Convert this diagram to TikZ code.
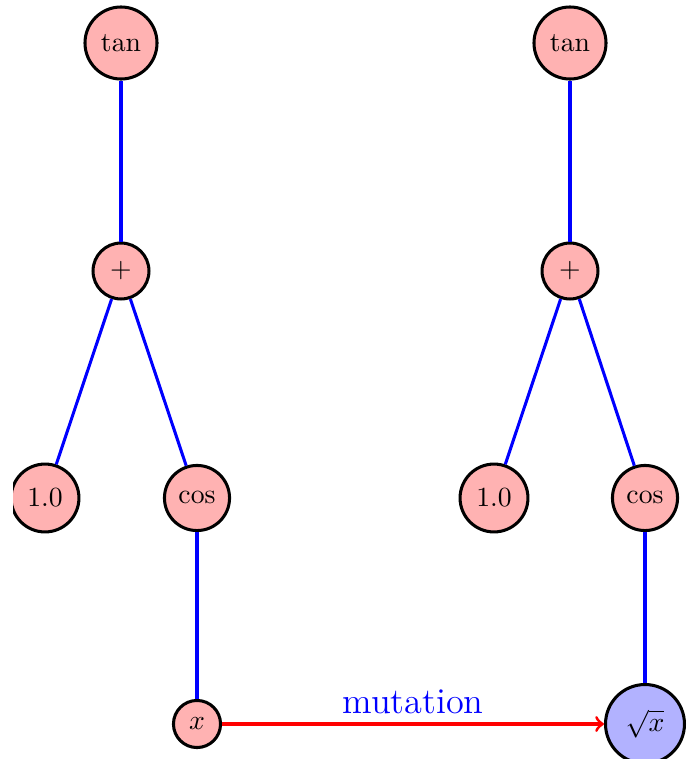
\documentclass[tikz,border=0pt]{standalone}
\begin{document}
\begin{tikzpicture}[x=0.361pt,y=-0.361pt,
  treenode/.style={circle,draw=black,line width=1.1pt,fill=red!30,inner sep=0pt},
  edge/.style={blue,line width=1.1pt},
  mut/.style={red,line width=1.1pt,->}]
\useasboundingbox (0,0) rectangle (691,759);
\clip (13,-10) rectangle (700,770);
% left tree
\node[treenode,minimum size=26pt] (ltan) at (121,43) {$\tan$};
\node[treenode,minimum size=20.2pt] (lplus) at (121,271) {$+$};
\node[treenode,minimum size=24.5pt] (lone) at (45,498) {$1.0$};
\node[treenode,minimum size=23.5pt] (lcos) at (197,498) {$\cos$};
\node[treenode,minimum size=17pt] (lx) at (197,724) {$x$};
% right tree
\node[treenode,minimum size=26pt] (rtan) at (570,43) {$\tan$};
\node[treenode,minimum size=20.2pt] (rplus) at (570,271) {$+$};
\node[treenode,minimum size=24.5pt] (rone) at (494,498) {$1.0$};
\node[treenode,minimum size=23.5pt] (rcos) at (645,498) {$\cos$};
\node[treenode,fill=blue!30,minimum size=28.5pt] (rsqrt) at (645,724) {$\sqrt{x}$};
% edges
\draw[edge] (ltan) -- (lplus);
\draw[edge] (lplus) -- (lone);
\draw[edge] (lplus) -- (lcos);
\draw[edge] (lcos) -- (lx);
\draw[edge] (rtan) -- (rplus);
\draw[edge] (rplus) -- (rone);
\draw[edge] (rplus) -- (rcos);
\draw[edge] (rcos) -- (rsqrt);
% mutation arrow
\draw[mut] (lx) -- (rsqrt);
\node[anchor=base,text=blue,inner sep=0pt,font=\fontsize{13.1}{15}\selectfont] (lab) at (413,713) {mutation};
\end{tikzpicture}
\end{document}
